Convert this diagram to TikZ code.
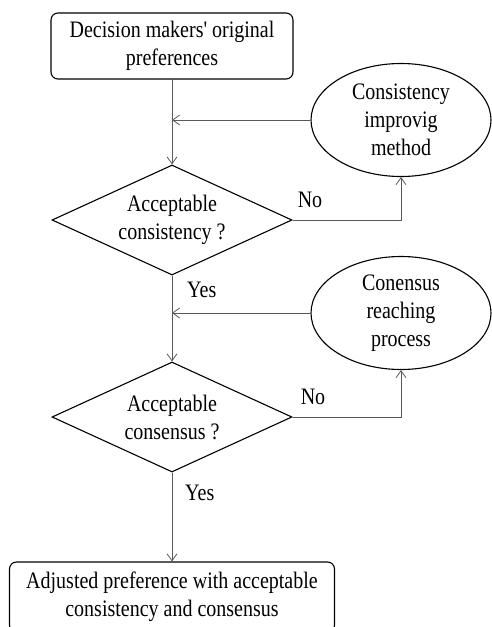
\documentclass[tikz,border=0pt]{standalone}
\usepackage{fontspec}
\setmainfont{Liberation Serif}
\usetikzlibrary{arrows.meta, positioning, shapes.geometric}

% text in the figure is drawn a bit taller than wide
\newcommand{\tall}[1]{\scalebox{1}[1.18]{#1}}

\begin{document}
\begin{tikzpicture}[x=1pt, y=-1pt,
  every node/.style={font=\fontsize{20}{28}\selectfont, align=center},
  stepbox/.style={draw, line width=1.1pt, rounded corners=7pt, inner sep=0pt},
  check/.style={draw, diamond, line width=1.1pt, aspect=2.17, inner sep=0pt,
    minimum width=240pt, minimum height=110pt},
  fixer/.style={draw, ellipse, line width=1.1pt, inner sep=0pt,
    minimum width=180pt, minimum height=113pt},
  lbl/.style={inner sep=0pt, anchor=base west},
  arr/.style={-{Straight Barb[length=7pt, width=10pt]}, draw=black!65, line width=0.8pt}]
  % page
  \useasboundingbox (0,0) rectangle (492,627);
  \clip (0,0) rectangle (492,627);

  % boxes
  \node[stepbox, minimum width=242pt, minimum height=66pt] (orig) at (172,46)
    {\tall{Decision makers\textquotesingle{} original}\\\tall{preferences}};
  \node[stepbox, minimum width=325pt, minimum height=70pt] (final) at (172,597)
    {\tall{Adjusted preference with acceptable}\\\tall{consistency and consensus}};

  % checks
  \node[check] (cons) at (172,220) {\tall{Acceptable}\\\tall{consistency ?}};
  \node[check] (agree) at (172,417) {\tall{Acceptable}\\\tall{consensus ?}};

  % feedback steps
  \node[fixer] (improve) at (401,120) {\tall{Consistency}\\\tall{improvig}\\\tall{method}};
  \node[fixer] (reach) at (401,313) {\tall{Conensus}\\\tall{reaching}\\\tall{process}};

  % labels
  \node[lbl] (no1) at ([xshift=5pt, yshift=13pt]cons.east) {\tall{No}};
  \node[lbl] (yes1) at ([xshift=15pt, yshift=-22pt]cons.south) {\tall{Yes}};
  \node[lbl] (no2) at ([xshift=8pt, yshift=13pt]agree.east) {\tall{No}};
  \node[lbl] (yes2) at ([xshift=13pt, yshift=-28pt]agree.south) {\tall{Yes}};

  % flow
  \draw[arr] (orig) -- (cons);
  \draw[arr] (cons) -- (agree);
  \draw[arr] (agree.south) -- (agree.south |- final.north);
  \draw[arr] (cons.east) -| (improve.south);
  \draw[arr] (agree.east) -| (reach.south);
  \draw[arr] (improve.west) -- (improve.west -| orig.south);
  \draw[arr] (reach.west) -- (reach.west -| cons.south);
\end{tikzpicture}
\end{document}
